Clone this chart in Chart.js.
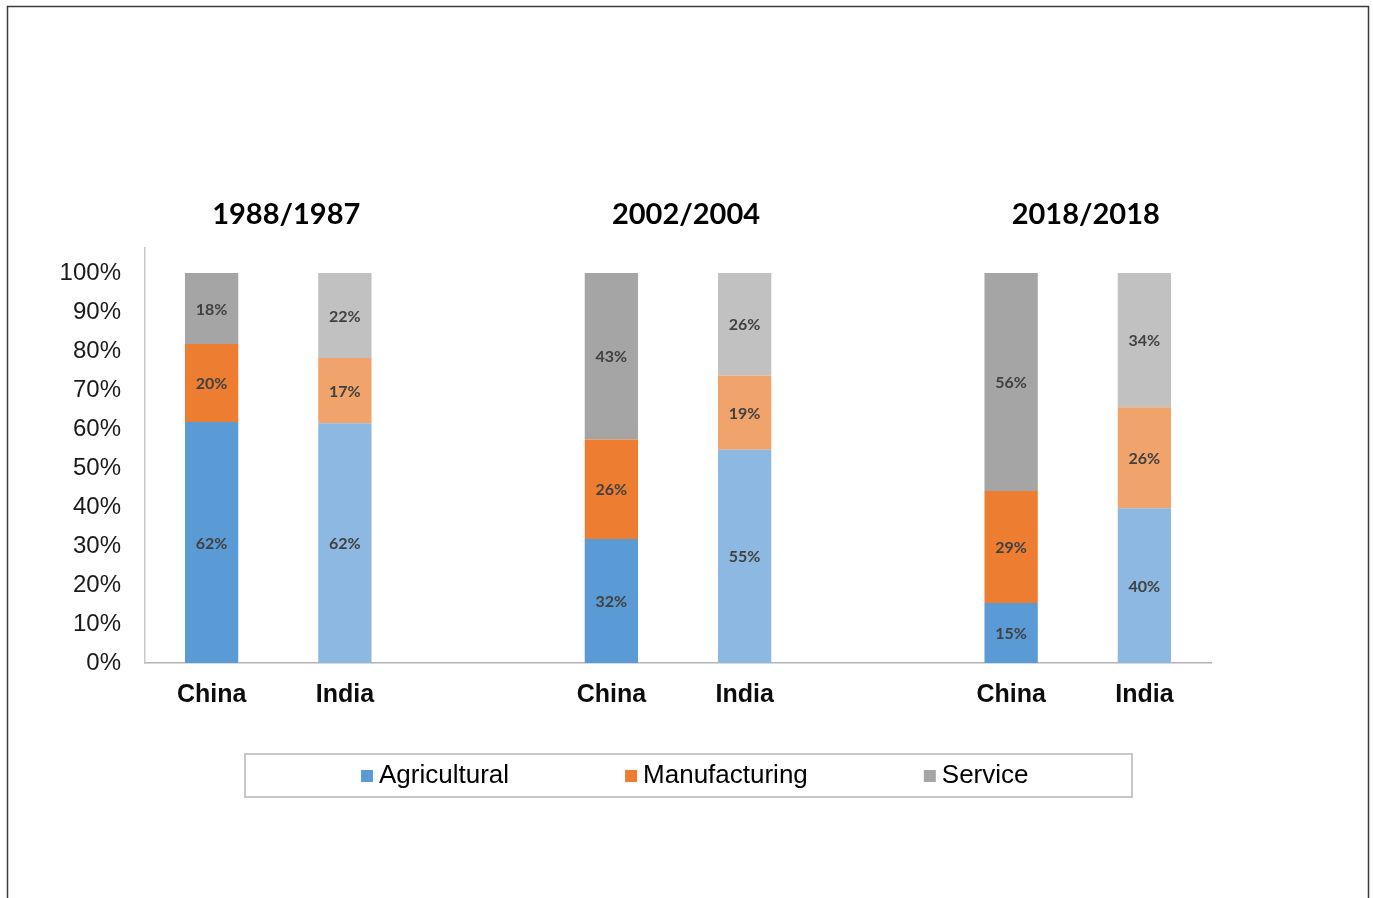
<!DOCTYPE html>
<html><head><meta charset="utf-8">
<script src="https://cdn.jsdelivr.net/npm/chart.js@4.4.0/dist/chart.umd.min.js"></script>
<style>html,body{margin:0;padding:0;background:#fff;overflow:hidden}#wrap{width:1373px;height:898px;position:relative}</style>
</head><body><div id="wrap"><canvas id="c" width="1373" height="898"></canvas></div>
<script>
// ---- data ----
const categories = ['China', 'India', '', 'China', 'India', '', 'China', 'India'];
const groupTitles = ['1988/1987', '2002/2004', '2018/2018'];
const groupIndexes = [[0, 1], [3, 4], [6, 7]];
const seriesNames = ['Agricultural', 'Manufacturing', 'Service'];
const agricultural  = [61.8, 61.5, null, 31.8, 54.7, null, 15.4, 39.7];
const manufacturing = [20.0, 16.7, null, 25.5, 19.0, null, 28.7, 25.9];
const service       = [18.2, 21.8, null, 42.7, 26.3, null, 55.9, 34.4];
const yTickValues = [0, 10, 20, 30, 40, 50, 60, 70, 80, 90, 100];

// ---- styles ----
const chinaColors = ['#5B9BD5', '#ED7D31', '#A5A5A5'];
const indiaColors = ['#8DB8E1', '#F1A36C', '#C1C1C1'];
function colorsFor(s) {
  return categories.map(c => c === 'India' ? indiaColors[s] : chinaColors[s]);
}
const seriesValues = [agricultural, manufacturing, service];

const frame = {
  id: 'frame',
  beforeDraw(chart) {
    const ctx = chart.ctx;
    ctx.save();
    ctx.fillStyle = '#fff';
    ctx.fillRect(0, 0, chart.width, chart.height);
    ctx.strokeStyle = '#3a3a3a';
    ctx.lineWidth = 1.5;
    ctx.beginPath();
    ctx.moveTo(7.5, chart.height + 2);
    ctx.lineTo(7.5, 6.5);
    ctx.lineTo(1368.5, 6.5);
    ctx.lineTo(1368.5, chart.height + 2);
    ctx.stroke();
    ctx.restore();
  }
};

const dataLabels = {
  id: 'dataLabels',
  afterDatasetsDraw(chart) {
    const ctx = chart.ctx;
    ctx.save();
    ctx.font = 'bold 16px Lato';
    ctx.fillStyle = '#404040';
    ctx.textAlign = 'center';
    ctx.textBaseline = 'middle';
    chart.data.datasets.forEach((ds, di) => {
      const meta = chart.getDatasetMeta(di);
      meta.data.forEach((el, i) => {
        const v = ds.data[i];
        if (v == null) return;
        ctx.fillText(Math.round(v) + '%', el.x, (el.y + el.base) / 2 + 1);
      });
    });
    ctx.restore();
  }
};

const groupTitlePlugin = {
  id: 'groupTitles',
  afterDraw(chart) {
    const ctx = chart.ctx;
    const xs = chart.scales.x;
    ctx.save();
    ctx.font = 'bold 29px Lato';
    ctx.fillStyle = '#000';
    ctx.textAlign = 'center';
    ctx.textBaseline = 'middle';
    groupTitles.forEach((t, g) => {
      const [a, b] = groupIndexes[g];
      const cx = (xs.getPixelForValue(a) + xs.getPixelForValue(b)) / 2 + 8;
      ctx.fillText(t, cx, 215);
    });
    ctx.restore();
  }
};

const legendBox = {
  id: 'legendBox',
  afterDraw(chart) {
    const ctx = chart.ctx;
    ctx.save();
    ctx.strokeStyle = '#C8C8C8';
    ctx.lineWidth = 2;
    ctx.strokeRect(245, 754, 887, 43);
    ctx.font = '26px "Liberation Sans"';
    ctx.textBaseline = 'middle';
    ctx.textAlign = 'left';
    let x = 361;
    const cy = 776;
    seriesNames.forEach((name, s) => {
      ctx.fillStyle = chinaColors[s];
      ctx.fillRect(x, cy - 6, 12, 12);
      ctx.fillStyle = '#000';
      ctx.fillText(name, x + 18, cy);
      x += 18 + ctx.measureText(name).width + 116;
    });
    ctx.restore();
  }
};

new Chart(document.getElementById('c'), {
  type: 'bar',
  data: {
    labels: categories,
    datasets: seriesNames.map((n, s) => ({
      label: n,
      data: seriesValues[s],
      backgroundColor: colorsFor(s),
      borderWidth: 0,
      barPercentage: 0.4,
      categoryPercentage: 1
    }))
  },
  options: {
    responsive: false,
    devicePixelRatio: 1,
    animation: false,
    layout: { padding: { left: 8, top: 248, right: 162, bottom: 135 } },
    plugins: { legend: { display: false }, tooltip: { enabled: false } },
    scales: {
      x: {
        stacked: true,
        grid: { display: false, drawTicks: false },
        border: { color: '#B4B4B4', width: 1.5 },
        ticks: { font: { family: 'Liberation Sans', size: 25, weight: 'bold' }, color: '#0d0d0d', padding: 17, maxRotation: 0, autoSkip: false },
        afterFit(s) { s.height = 100; }
      },
      y: {
        stacked: true,
        min: 0,
        max: 106.4,
        grid: { display: false, drawTicks: false },
        border: { color: '#C8C8C8', width: 1.5 },
        ticks: { stepSize: 10, callback: v => v + '%', font: { family: 'Liberation Sans', size: 24 }, color: '#1a1a1a', padding: 24 },
        afterBuildTicks(s) { s.ticks = yTickValues.map(v => ({ value: v })); },
        afterFit(s) { s.width = 137; }
      }
    }
  },
  plugins: [frame, dataLabels, groupTitlePlugin, legendBox]
});
</script></body></html>
